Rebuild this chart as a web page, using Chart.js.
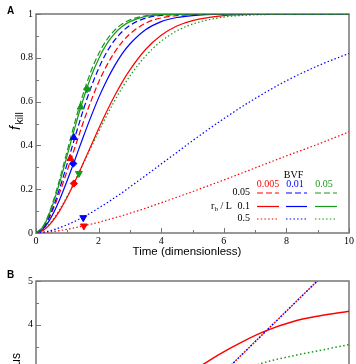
<!DOCTYPE html>
<html><head><meta charset="utf-8">
<script src="https://cdn.jsdelivr.net/npm/chart.js@4.4.0/dist/chart.umd.min.js"></script>
<style>
html,body{margin:0;padding:0;overflow:hidden;background:#fff;width:356px;height:364px;}
#a{position:absolute;left:0;top:0;}
#b{position:absolute;left:0;top:262px;}
</style></head><body>
<canvas id="a" width="356" height="262"></canvas>
<canvas id="b" width="356" height="180"></canvas>
<script>
// ---------- Panel A data ----------
const time = [0,0.25,0.5,0.75,1,1.25,1.5,1.75,2,2.25,2.5,2.75,3,3.5,4,4.5,5,6,7,8,9,10];
// r_b/L = 0.05 (dashed)
const redDashed   = [0,0.028,0.093,0.182,0.286,0.394,0.501,0.600,0.688,0.762,0.823,0.872,0.909,0.958,0.982,0.993,0.997,1,1,1,1,1];
const blueDashed  = [0,0.029,0.100,0.201,0.318,0.440,0.557,0.662,0.751,0.823,0.878,0.919,0.948,0.981,0.994,0.998,0.9995,1,1,1,1,1];
const greenDashed = [0,0.036,0.123,0.242,0.376,0.510,0.632,0.736,0.818,0.880,0.924,0.954,0.973,0.992,0.998,0.9995,1,1,1,1,1,1];
// r_b/L = 0.1 (solid)
const redSolid    = [0,0.014,0.049,0.100,0.164,0.237,0.316,0.396,0.476,0.552,0.623,0.688,0.745,0.838,0.903,0.945,0.970,0.993,0.999,1,1,1];
const blueSolid   = [0,0.022,0.076,0.151,0.241,0.337,0.435,0.529,0.617,0.694,0.761,0.818,0.863,0.928,0.965,0.984,0.993,0.999,1,1,1,1];
const greenSolid  = [0,0.033,0.115,0.228,0.356,0.486,0.606,0.711,0.795,0.861,0.909,0.943,0.965,0.989,0.997,0.999,1,1,1,1,1,1];
// r_b/L = 0.5 (dotted)
const redDotted   = [0,0.002,0.006,0.011,0.017,0.024,0.032,0.040,0.049,0.059,0.069,0.079,0.090,0.113,0.138,0.163,0.189,0.242,0.297,0.352,0.405,0.462];
const blueDotted  = [0,0.004,0.012,0.024,0.038,0.054,0.072,0.092,0.114,0.136,0.160,0.184,0.210,0.262,0.315,0.368,0.421,0.522,0.614,0.695,0.763,0.820];
const greenDotted = [0,0.016,0.053,0.106,0.169,0.239,0.313,0.388,0.462,0.534,0.601,0.662,0.717,0.808,0.876,0.923,0.954,0.986,0.996,0.999,1,1];
// markers (red, blue, green)
const triUpT  = [1.10,1.21,1.43];  const triUpF  = [0.340,0.436,0.575];
const diamT   = [1.21,1.19,1.63];  const diamF   = [0.226,0.317,0.657];
const triDnT  = [1.53,1.51,1.37];  const triDnF  = [0.032,0.070,0.272];
const xTicksA = [0,2,4,6,8,10];
const yTicksA = [0,0.2,0.4,0.6,0.8,1];
const bvfLabels = ['0.005','0.01','0.05'];
const rbLabels  = ['0.05','0.1','0.5'];

// ---------- Panel B data ----------
const bDiagT  = [5.0, 9.2];             const bDiagV  = [2.21, 5.15];
const bRedT   = [4.5,5.38,6.18,7.24,8.30,9.04,10]; const bRedV = [2.68,3.11,3.45,3.83,4.09,4.20,4.31];
const bGreenT = [6.0,7.19,8.30,9.0,9.9,10];       const bGreenV = [2.78,3.11,3.30,3.40,3.53,3.545];
const bBlueT  = [8,9,10];                const bBlueV  = [2.70,2.92,3.08];
const yTicksB = [2,3,4,5];

const RED='#ff0000', BLUE='#0000ff', GREEN='#16991a';
const DASH=[6,3], DOT=[1.5,2.2];
const serif='"Liberation Serif","Times New Roman",serif';
const sans='"Liberation Sans",Arial,sans-serif';

const pts=(xs,ys)=>xs.map((x,i)=>({x:x,y:ys[i]}));
function line(xs,ys,color,dash,w,extra){
  return Object.assign({data:pts(xs,ys),showLine:true,borderColor:color,backgroundColor:color,
    borderWidth:w||1.2,borderDash:dash||[],pointRadius:0,cubicInterpolationMode:'monotone',fill:false},extra||{});
}
const fmt=v=>String(Math.round(v*10)/10);

const framePlugin={
  id:'frame',
  beforeDatasetsDraw(chart,args,o){
    const {ctx,chartArea:{left,right,top,bottom},scales:{x,y}}=chart;
    ctx.save();
    ctx.strokeStyle='#767676';ctx.lineWidth=1.5;
    ctx.strokeRect(left,top,right-left,bottom-top);
    ctx.lineWidth=1;ctx.beginPath();
    (o.xMajor||[]).forEach(v=>{const p=Math.round(x.getPixelForValue(v))+0.5;ctx.moveTo(p,bottom);ctx.lineTo(p,bottom-5);});
    (o.xMinor||[]).forEach(v=>{const p=Math.round(x.getPixelForValue(v))+0.5;ctx.moveTo(p,bottom);ctx.lineTo(p,bottom-3);});
    (o.yMajor||[]).forEach(v=>{const p=Math.round(y.getPixelForValue(v))+0.5;ctx.moveTo(left,p);ctx.lineTo(left+5,p);});
    (o.yMinor||[]).forEach(v=>{const p=Math.round(y.getPixelForValue(v))+0.5;ctx.moveTo(left,p);ctx.lineTo(left+3,p);});
    ctx.stroke();ctx.restore();
  }
};

function scaleOpts(min,max,ticks,fmtFn,isX,size){
  return {type:'linear',min:min,max:max,
    afterBuildTicks:s=>{s.ticks=ticks.map(v=>({value:v}));},
    ticks:{callback:fmtFn,font:{family:serif,size:10},color:'#000',padding:isX?2:3,maxRotation:0,autoSkip:false},
    grid:{display:false,drawTicks:false},border:{display:false},
    afterFit:s=>{if(isX)s.height=size;else s.width=size;}};
}

// ---------- Panel A ----------
const annA={
  id:'annA',
  afterDraw(chart){
    const ctx=chart.ctx;
    ctx.save();
    ctx.fillStyle='#000';
    ctx.font='bold 10px '+sans;ctx.textAlign='left';ctx.textBaseline='alphabetic';
    ctx.fillText('A',7,13.5);
    ctx.font='11.5px '+sans;ctx.textAlign='center';ctx.textBaseline='middle';
    ctx.fillText('Time (dimensionless)',187,252);
    // y title f_kill
    ctx.save();ctx.translate(20,118);ctx.rotate(-Math.PI/2);
    ctx.textAlign='left';ctx.textBaseline='alphabetic';
    ctx.font='italic 14px '+sans;ctx.fillText('f',-12,0);
    ctx.font='10.5px '+sans;ctx.fillText('kill',-6.5,2.5);
    ctx.restore();
    // legend
    ctx.font='10px '+serif;ctx.textBaseline='middle';ctx.textAlign='center';
    ctx.fillText('BVF',293.5,175.5);
    const cols=[RED,BLUE,GREEN],cx=[268,295,324],lx=[[257,279],[286,307],[315,337]];
    bvfLabels.forEach((t,i)=>{ctx.fillStyle=cols[i];ctx.fillText(t,cx[i],184.5);});
    ctx.fillStyle='#000';ctx.textAlign='right';
    const rows=[192.5,206,218.5],dashes=[DASH,[],DOT];
    rbLabels.forEach((t,j)=>{ctx.fillText(t,250,rows[j]);});
    // r_b / L
    ctx.textAlign='left';
    ctx.fillText('r',211,rows[1]);
    ctx.font='7px '+serif;ctx.fillText('b',214.6,rows[1]+3);
    ctx.font='10px '+serif;ctx.fillText('/ L',220.5,rows[1]);
    for(let j=0;j<3;j++)for(let i=0;i<3;i++){
      ctx.strokeStyle=cols[i];ctx.lineWidth=1.2;ctx.setLineDash(dashes[j]);
      ctx.beginPath();ctx.moveTo(lx[i][0],rows[j]+0.5);ctx.lineTo(lx[i][1],rows[j]+0.5);ctx.stroke();
    }
    ctx.restore();
  }
};

const markerDs=(xs,ys,style,rot,r)=>({data:pts(xs,ys),showLine:false,pointStyle:style,rotation:rot,pointRadius:r,
  pointBackgroundColor:[RED,BLUE,GREEN],pointBorderColor:[RED,BLUE,GREEN],pointBorderWidth:1});

new Chart(document.getElementById('a'),{
  type:'scatter',
  data:{datasets:[
    markerDs(triUpT,triUpF,'triangle',0,4),
    markerDs(diamT,diamF,'rectRot',0,3.6),
    markerDs(triDnT,triDnF,'triangle',180,4),
    line(time,greenDashed,GREEN,DASH),
    line(time,greenSolid,GREEN,[]),
    line(time,blueDashed,BLUE,DASH),
    line(time,redDashed,RED,DASH),
    line(time,blueSolid,BLUE,[]),
    line(time,redSolid,RED,[]),
    line(time,greenDotted,GREEN,DOT),
    line(time,blueDotted,BLUE,DOT),
    line(time,redDotted,RED,DOT)
  ]},
  options:{responsive:false,animation:false,devicePixelRatio:1,
    layout:{padding:{top:14,right:6,left:0,bottom:0}},
    plugins:{legend:{display:false},tooltip:{enabled:false},
      frame:{xMajor:xTicksA,xMinor:[1,3,5,7,9],yMajor:yTicksA,yMinor:[0.1,0.3,0.5,0.7,0.9]}},
    scales:{x:scaleOpts(0,10,xTicksA,v=>String(v),true,29),
            y:scaleOpts(0,1,yTicksA,fmt,false,36)}
  },
  plugins:[framePlugin,annA]
});

// ---------- Panel B ----------
const annB={
  id:'annB',
  afterDraw(chart){
    const ctx=chart.ctx;
    ctx.save();ctx.fillStyle='#000';
    ctx.font='bold 10px '+sans;ctx.textAlign='left';ctx.textBaseline='alphabetic';
    ctx.fillText('B',7,15.5);
    ctx.save();ctx.translate(20,91);ctx.rotate(-Math.PI/2);
    ctx.font='12px '+sans;ctx.textAlign='right';ctx.textBaseline='alphabetic';
    ctx.fillText('Radius',0,0);
    ctx.restore();
    ctx.restore();
  }
};
new Chart(document.getElementById('b'),{
  type:'scatter',
  data:{datasets:[
    line(bDiagT,bDiagV,BLUE,[2,4],1.5,{borderDashOffset:3,cubicInterpolationMode:'default',tension:0}),
    line(bDiagT,bDiagV,RED,[2,4],1.5,{cubicInterpolationMode:'default',tension:0}),
    line(bRedT,bRedV,RED,[],1.5),
    line(bGreenT,bGreenV,GREEN,[1.5,2.5],1.5),
    line(bBlueT,bBlueV,BLUE,[],1.5)
  ]},
  options:{responsive:false,animation:false,devicePixelRatio:1,
    layout:{padding:{top:19,right:6,left:0,bottom:0}},
    plugins:{legend:{display:false},tooltip:{enabled:false},
      frame:{xMajor:xTicksA,xMinor:[1,3,5,7,9],yMajor:yTicksB,yMinor:[2.5,3.5,4.5]}},
    scales:{x:scaleOpts(0,10,xTicksA,v=>String(v),true,30),
            y:scaleOpts(2,5,yTicksB,v=>String(v),false,36)}
  },
  plugins:[framePlugin,annB]
});
</script>
</body></html>
